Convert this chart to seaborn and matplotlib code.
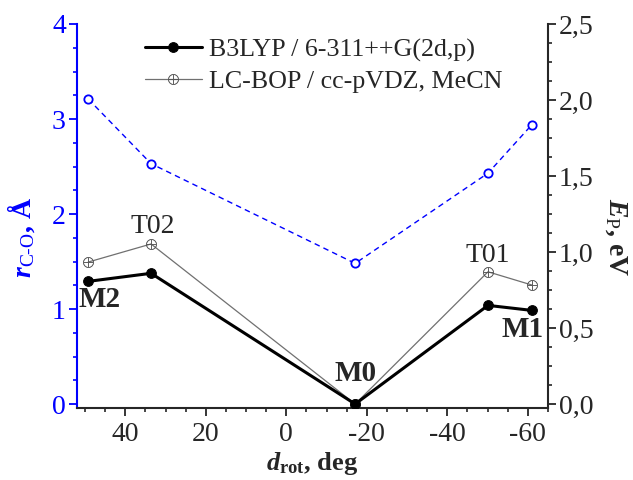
import matplotlib
matplotlib.use("Agg")
import matplotlib.pyplot as plt
import seaborn as sns
import pandas as pd
from matplotlib.ticker import MultipleLocator

# data
d_rot = [49.2, 33.6, -17.1, -50.1, -61.0]
r_co = [3.21, 2.53, 1.48, 2.43, 2.94]
e_b3lyp = [0.807, 0.86, 0.0, 0.649, 0.616]
e_lcbop = [0.934, 1.053, 0.0, 0.87, 0.783]

x_ticks = [40, 20, 0, -20, -40, -60]
left_ticks = [0, 1, 2, 3, 4]
right_ticks = [0.0, 0.5, 1.0, 1.5, 2.0, 2.5]
right_labels = ["0,0", "0,5", "1,0", "1,5", "2,0", "2,5"]

label_b3lyp = "B3LYP / 6-311++G(2d,p)"
label_lcbop = "LC-BOP / cc-pVDZ, MeCN"

df = pd.DataFrame({"d": d_rot, "r": r_co, "b3lyp": e_b3lyp, "lcbop": e_lcbop})

sns.set_style("ticks")
plt.rcParams["font.family"] = ["Liberation Serif", "DejaVu Serif"]
plt.rcParams["mathtext.fontset"] = "custom"
plt.rcParams["mathtext.rm"] = "Liberation Serif"
plt.rcParams["mathtext.it"] = "Liberation Serif:italic"
plt.rcParams["mathtext.bf"] = "Liberation Serif:bold"
plt.rcParams["mathtext.bfit"] = "Liberation Serif:italic:bold"

blue = "#0000FF"
fs = 20

fig = plt.figure(figsize=(6.33, 4.8), dpi=100)
ax = fig.add_axes([0.1216, 0.15, 0.7441, 0.80])
ax2 = ax.twinx()

# r(C-O) on the left axis
sns.lineplot(data=df, x="d", y="r", ax=ax, sort=False, color=blue,
             linewidth=1.0, linestyle=(0, (4, 3)), marker="o", markersize=6,
             markerfacecolor="white", markeredgecolor=blue, markeredgewidth=1.3)

# energies on the right axis
sns.lineplot(data=df, x="d", y="lcbop", ax=ax2, sort=False, color="#707070",
             linewidth=0.9, marker=r"$\oplus$", markersize=7.5,
             markeredgewidth=0.3, markeredgecolor="#505050", label=label_lcbop)
sns.lineplot(data=df, x="d", y="b3lyp", ax=ax2, sort=False, color="black",
             linewidth=2.2, marker="o", markersize=7, markeredgecolor="black",
             label=label_b3lyp)

ax.set_xlim(52, -65)
ax.set_ylim(-0.042, 4)
ax2.set_ylim(-0.026, 2.5)

ax.set_xticks(x_ticks)
ax.set_xticklabels([str(t) for t in x_ticks], fontsize=fs)
ax.xaxis.set_minor_locator(MultipleLocator(5))
ax.set_yticks(left_ticks)
ax.set_yticklabels([str(t) for t in left_ticks], fontsize=fs, color=blue)
ax.yaxis.set_minor_locator(MultipleLocator(0.25))
ax2.set_yticks(right_ticks)
ax2.set_yticklabels(right_labels, fontsize=fs)
ax2.yaxis.set_minor_locator(MultipleLocator(0.125))

for a in (ax, ax2):
    a.spines["top"].set_visible(False)
    a.tick_params(which="major", length=6, width=1.3, direction="out", pad=2)
    a.tick_params(which="minor", length=3, width=1.2, direction="out")
ax.tick_params(axis="x", which="major", pad=4)
ax.spines["left"].set_color(blue)
ax.spines["left"].set_linewidth(1.5)
ax.spines["bottom"].set_linewidth(1.5)
ax2.spines["right"].set_linewidth(1.5)
ax2.spines["left"].set_visible(False)
ax2.spines["bottom"].set_visible(False)
ax.spines["right"].set_visible(False)
ax.tick_params(axis="y", which="both", colors=blue)

ax.set_xlabel(r"$\mathbfit{d}_{\mathbf{rot}}$, deg", fontsize=19,
              fontweight="bold", labelpad=2)
ax.set_ylabel(r"$\mathbfit{r}_{\mathrm{C\text{-}O}}$, Å", fontsize=20,
              fontweight="bold", color=blue)
ax.yaxis.set_label_coords(-0.085, 0.445)
ax2.set_ylabel(r"$\mathbfit{E}_{\mathrm{P}}$, eV", fontsize=20,
               fontweight="bold", rotation=-90)
ax2.yaxis.set_label_coords(1.172, 0.445)

# state labels
ax2.text(46.4, 0.69, "M2", fontsize=21, fontweight="bold", ha="center", va="center")
ax2.text(33.3, 1.165, "T02", fontsize=fs, ha="center", va="center")
ax2.text(-17.1, 0.20, "M0", fontsize=21, fontweight="bold", ha="center", va="center")
ax2.text(-50.0, 0.98, "T01", fontsize=fs, ha="center", va="center")
ax2.text(-58.7, 0.49, "M1", fontsize=21, fontweight="bold", ha="center", va="center")

h, l = ax2.get_legend_handles_labels()
ax2.legend(h[::-1], l[::-1], loc="upper left", bbox_to_anchor=(0.105, 1.01),
           frameon=False, fontsize=18.7, handlelength=2.2, handletextpad=0.28,
           labelspacing=0.3, borderaxespad=0.3)

fig.savefig("out.png", dpi=100)
